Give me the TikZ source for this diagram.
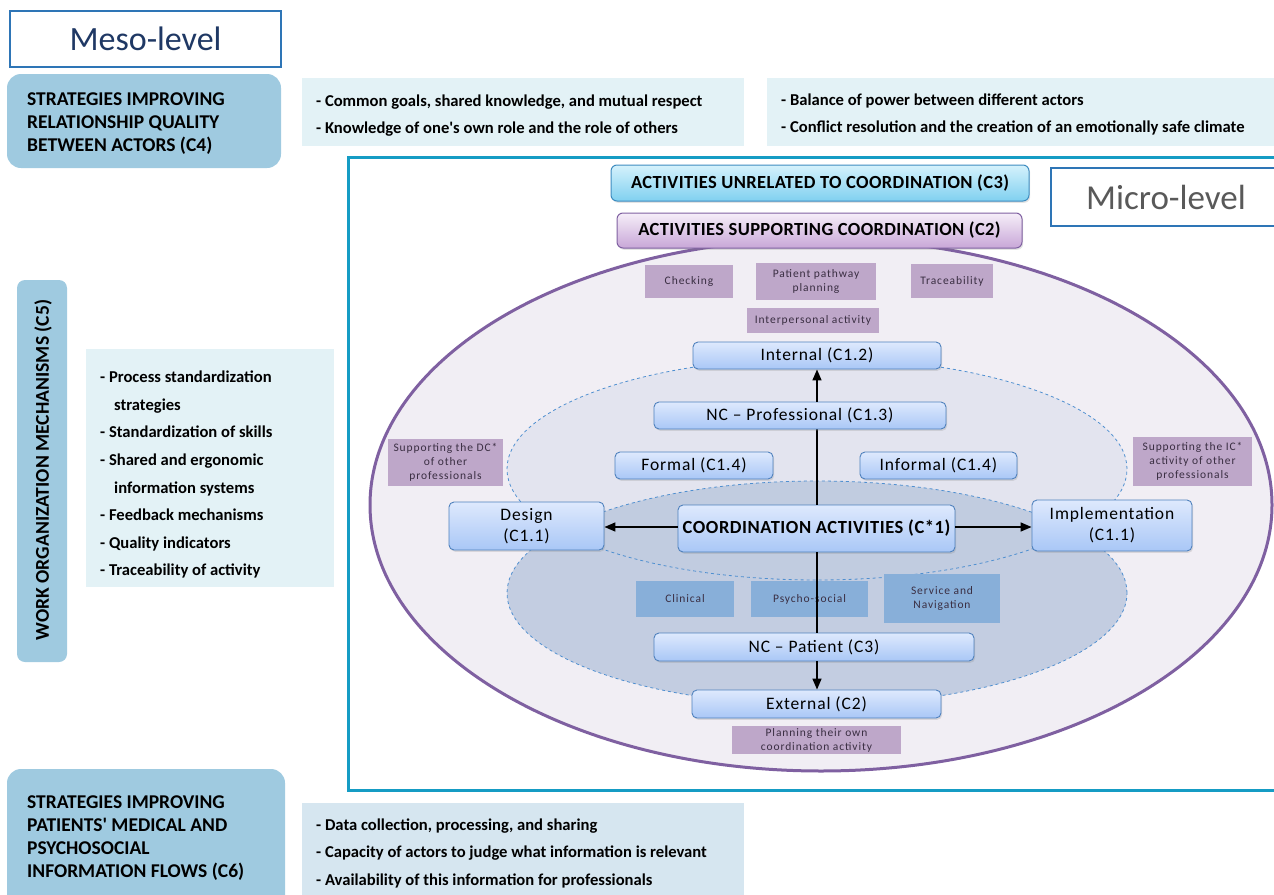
\documentclass[tikz,border=0pt]{standalone}
\usepackage{fontspec}
\setmainfont{Carlito}
\newfontfamily\spacedA{Carlito}[LetterSpace=5]
\newfontfamily\spacedB{Carlito}[LetterSpace=8]
\usetikzlibrary{arrows.meta,shadows}
\definecolor{mesob}{HTML}{2E75B6}
\definecolor{navy}{HTML}{1F3864}
\definecolor{stratf}{HTML}{9FCAE0}
\definecolor{bulf}{HTML}{E3F2F6}
\definecolor{bulf2}{HTML}{D6E6F0}
\definecolor{frame}{HTML}{159CC4}
\definecolor{purp}{HTML}{7F60A1}
\definecolor{lav}{HTML}{F1EEF4}
\definecolor{upf}{HTML}{E3E4EF}
\definecolor{lowf}{HTML}{BCC8DE}
\definecolor{dashb}{HTML}{4F8FD0}
\definecolor{psm}{HTML}{BEA7C9}
\definecolor{bsm}{HTML}{88AFD9}
\definecolor{bxtop}{HTML}{DEE9FD}
\definecolor{bxbot}{HTML}{A9C7F6}
\definecolor{bxb}{HTML}{4F81BD}
\definecolor{cthtop}{HTML}{D5F2FC}
\definecolor{cthbot}{HTML}{80D0F0}
\definecolor{cthb}{HTML}{3E8CC0}
\definecolor{ctwtop}{HTML}{F6EEF9}
\definecolor{ctwbot}{HTML}{C8A7D7}
\definecolor{smtxt}{HTML}{3A2E42}
\begin{document}
\begin{tikzpicture}[x=1pt,y=-1pt,
  titlebox/.style={draw=mesob,line width=1.2pt,fill=white,inner sep=0pt},
  strat/.style={fill=stratf,rounded corners=14pt},
  strattext/.style={align=left,anchor=north west,inner sep=0pt,font=\fontsize{19.5}{23}\selectfont\bfseries,text=black},
  bulbox/.style={fill=bulf},
  bultext/.style={align=left,anchor=west,inner sep=0pt,font=\fontsize{16.6}{17}\selectfont\bfseries},
  shd/.style={drop shadow={opacity=0.22,shadow xshift=1.2pt,shadow yshift=-1.8pt}},
  bluebox/.style={shd,draw=bxb,line width=0.9pt,rounded corners=5pt,top color=bxtop,bottom color=bxbot,inner sep=0pt,align=center,font=\fontsize{17.5}{20}\spacedA},
  psmall/.style={fill=psm,inner sep=0pt,align=center,text=smtxt,font=\fontsize{11.5}{14}\spacedB},
  bsmall/.style={fill=bsm,inner sep=0pt,align=center,text=smtxt,font=\fontsize{11.5}{14}\spacedB},
  arr/.style={-{Triangle[length=11pt,width=9pt]},line width=1.5pt},
  ln/.style={line width=1.5pt}
]
\useasboundingbox (0,0) rectangle (1274,894);
% ---------- meso-level ----------
\node[titlebox,minimum width=271pt,minimum height=56pt,font=\fontsize{34}{40}\selectfont,text=navy] (meso) at (145.5,39) {Meso-level};
% C4
\fill[strat] (7,74) rectangle (281,168);
\node[strattext] (c4) at (27,92.5) {STRATEGIES IMPROVING\\RELATIONSHIP QUALITY\\BETWEEN ACTORS (C4)};
\fill[bulbox] (302,78) rectangle (744,146);
\node[bultext] (b1a) at (316,102) {- Common goals, shared knowledge, and mutual respect};
\node[bultext] (b1b) at (316,129) {- Knowledge of one\textquotesingle s own role and the role of others};
\fill[bulbox] (767,78) rectangle (1280,146);
\node[bultext] (b2a) at (781,101) {- Balance of power between different actors};
\node[bultext] (b2b) at (781,128) {- Conflict resolution and the creation of an emotionally safe climate};
% C5
\fill[strat,rounded corners=8pt] (17,280) rectangle (67,662);
\node[rotate=90,inner sep=0pt,font=\fontsize{19.6}{24}\selectfont\bfseries] (c5) at (43,470) {WORK ORGANIZATION MECHANISMS (C5)};
\fill[bulbox] (86,349) rectangle (334,587);
\node[bultext,anchor=north west,font=\fontsize{16.6}{27.55}\selectfont\bfseries] (b3) at (100,371) {- Process standardization\\\hspace{14pt}strategies\\- Standardization of skills\\- Shared and ergonomic\\\hspace{14pt}information systems\\- Feedback mechanisms\\- Quality indicators\\- Traceability of activity};
% C6
\fill[strat] (7,769) rectangle (285,910);
\node[strattext] (c6) at (27,795.5) {STRATEGIES IMPROVING\\PATIENTS\textquotesingle\ MEDICAL AND\\PSYCHOSOCIAL\\INFORMATION FLOWS (C6)};
\fill[bulf2] (302,803) rectangle (744,900);
\node[bultext] (b4a) at (316,826) {- Data collection, processing, and sharing};
\node[bultext] (b4b) at (316,853) {- Capacity of actors to judge what information is relevant};
\node[bultext] (b4c) at (316,881) {- Availability of this information for professionals};
% ---------- micro frame ----------
\draw[frame,line width=3pt] (1290,157) -- (348,157) -- (348,790) -- (1290,790);
% big ellipse
\draw[purp,line width=3pt,fill=lav] (821,505) ellipse [x radius=451pt,y radius=266pt];
% inner ellipses
\fill[upf] (817,469) ellipse [x radius=310pt,y radius=111pt];
\fill[lowf,fill opacity=0.85] (817,593) ellipse [x radius=310pt,y radius=112pt];
\draw[dashb,dashed,line width=0.8pt] (817,469) ellipse [x radius=310pt,y radius=111pt];
\draw[dashb,dashed,line width=0.8pt] (817,593) ellipse [x radius=310pt,y radius=112pt];
% C3 / C2 header boxes
\node[shd,draw=cthb,line width=1pt,rounded corners=6pt,top color=cthtop,bottom color=cthbot,minimum width=418pt,minimum height=36pt,inner sep=0pt,font=\fontsize{18.5}{20}\selectfont\bfseries\addfontfeature{LetterSpace=2}] (c3) at (820,183) {ACTIVITIES UNRELATED TO COORDINATION (C3)};
\node[shd,draw=purp,line width=1pt,rounded corners=6pt,top color=ctwtop,bottom color=ctwbot,minimum width=405pt,minimum height=35pt,inner sep=0pt,font=\fontsize{18.5}{20}\selectfont\bfseries\addfontfeature{LetterSpace=2}] (c2) at (819.5,230.5) {ACTIVITIES SUPPORTING COORDINATION (C2)};
\node[titlebox,minimum width=230pt,minimum height=58pt,font=\fontsize{35}{40}\selectfont,text=black!65] (micro) at (1166,197) {Micro-level};
% purple small boxes
\node[psmall,minimum width=88pt,minimum height=33pt] (chk) at (689,281.5) {Checking};
\node[psmall,minimum width=120pt,minimum height=37pt] (ppp) at (816,281.5) {Patient pathway\\planning};
\node[psmall,minimum width=82pt,minimum height=34pt] (trc) at (952,281) {Traceability};
\node[psmall,minimum width=132pt,minimum height=25pt] (ipa) at (813,320.5) {Interpersonal activity};
\node[psmall,minimum width=115pt,minimum height=47pt] (sdc) at (445.5,462.5) {Supporting the DC*\\of other\\professionals};
\node[psmall,minimum width=119pt,minimum height=49pt] (sic) at (1192.5,461.5) {Supporting the IC*\\activity of other\\professionals};
\node[psmall,minimum width=169pt,minimum height=28pt] (plo) at (816.5,740) {Planning their own\\coordination activity};
% blue small boxes
\node[bsmall,minimum width=98pt,minimum height=36pt] (cli) at (685,599) {Clinical};
\node[bsmall,minimum width=117pt,minimum height=36pt] (psy) at (809.5,599) {Psycho-social};
\node[bsmall,minimum width=116pt,minimum height=49pt] (srv) at (942,598.5) {Service and\\Navigation};
\coordinate (vt) at (817,369);
% main boxes
\node[bluebox,minimum width=277pt,minimum height=47pt,font=\fontsize{18.5}{20}\selectfont\bfseries\addfontfeature{LetterSpace=3}] (coord) at (816.5,528.5) {COORDINATION ACTIVITIES (C*1)};
\node[bluebox,minimum width=248pt,minimum height=27pt] (int) at (817,355.5) {Internal (C1.2)};
\node[bluebox,minimum width=320pt,minimum height=28pt] (ncpa) at (814,647) {NC – Patient (C3)};
\node[bluebox,minimum width=249pt,minimum height=28pt] (ext) at (816.5,704) {External (C2)};
\draw[ln] (coord.north -| vt) -- (817,429);
\draw[ln] (coord.south -| vt) -- (817,633);
\node[bluebox,minimum width=292pt,minimum height=27pt] (ncpr) at (800,415.5) {NC – Professional (C1.3)};
\node[bluebox,minimum width=158pt,minimum height=27pt] (frm) at (694,465.5) {Formal (C1.4)};
\node[bluebox,minimum width=157pt,minimum height=27pt] (inf) at (938.5,465.5) {Informal (C1.4)};
\node[bluebox,minimum width=155pt,minimum height=48pt,font=\fontsize{17.5}{21}\spacedA] (des) at (526.5,526) {Design\\(C1.1)};
\node[bluebox,minimum width=160pt,minimum height=51pt,font=\fontsize{17.5}{21}\spacedA] (imp) at (1112,525.5) {Implementation\\(C1.1)};
% arrows
\draw[arr] (ncpr.north -| vt) -- (int.south -| vt);
\draw[arr] (ncpa.south -| vt) -- (ext.north -| vt);
\draw[arr] (coord.west |- 0,527) -- (des.east |- 0,527);
\draw[arr] (coord.east |- 0,527) -- (imp.west |- 0,527);
\end{tikzpicture}
\end{document}
